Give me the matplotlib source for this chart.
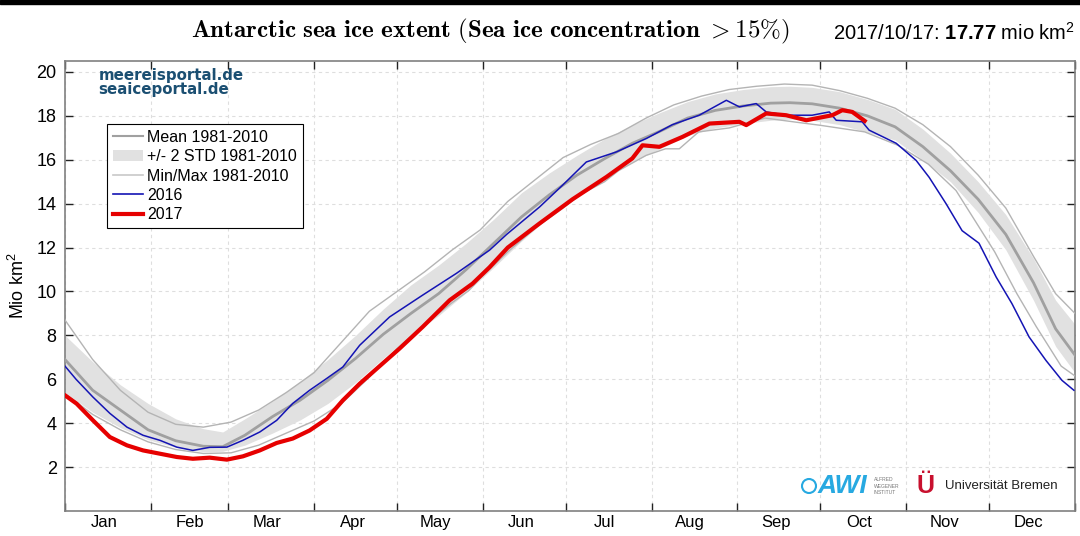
import numpy as np
import matplotlib.pyplot as plt
from matplotlib.patches import Patch, Rectangle, Ellipse
from matplotlib.lines import Line2D

plt.rcParams['font.family'] = ['Liberation Sans', 'DejaVu Sans']
plt.rcParams['mathtext.fontset'] = 'custom'
plt.rcParams['mathtext.rm'] = 'Liberation Sans'
plt.rcParams['mathtext.bf'] = 'Liberation Sans:bold'
plt.rcParams['mathtext.it'] = 'Liberation Sans:italic'

# day of year (0 = Jan 1)
month_starts = [0, 31, 59, 90, 120, 151, 181, 212, 243, 273, 304, 334, 365]
month_names = ['Jan', 'Feb', 'Mar', 'Apr', 'May', 'Jun',
               'Jul', 'Aug', 'Sep', 'Oct', 'Nov', 'Dec']

# climatology 1981-2010
clim_days = [0, 10, 20, 30, 40, 50, 57, 65, 75, 85, 95, 105, 115, 125, 135, 145, 155,
             165, 175, 185, 195, 205, 215, 225, 235, 245, 255, 262, 270, 280, 290,
             300, 310, 320, 330, 340, 350, 358, 365]
mean_vals = [6.9, 5.5, 4.6, 3.7, 3.2, 2.95, 2.93, 3.45, 4.3, 5.05, 5.95, 6.95, 8.05,
             9.0, 9.9, 11.0, 12.2, 13.4, 14.4, 15.3, 16.05, 16.75, 17.3, 17.9, 18.25,
             18.45, 18.58, 18.6, 18.55, 18.35, 18.0, 17.5, 16.6, 15.5, 14.2, 12.6,
             10.4, 8.3, 7.1]
std_upper = [8.0, 6.8, 5.75, 4.9, 4.2, 3.75, 3.6, 4.2, 5.0, 5.9, 6.9, 8.0, 9.2,
             10.3, 11.2, 12.2, 13.3, 14.5, 15.4, 16.2, 16.95, 17.6, 18.15, 18.65,
             19.0, 19.2, 19.33, 19.35, 19.3, 19.1, 18.75, 18.3, 17.4, 16.3, 15.0,
             13.5, 11.5, 9.6, 8.5]
std_lower = [5.4, 4.5, 3.8, 3.25, 2.9, 2.7, 2.72, 3.0, 3.55, 4.15, 4.9, 5.85, 6.95,
             8.0, 8.9, 9.95, 11.1, 12.3, 13.4, 14.35, 15.15, 15.9, 16.5, 17.1, 17.45,
             17.65, 17.8, 17.85, 17.8, 17.6, 17.25, 16.9, 16.0, 15.0, 13.6, 11.9,
             9.6, 7.5, 6.3]

max_days = [0, 10, 20, 30, 40, 50, 60, 70, 80, 90, 100, 110, 120, 130, 140, 150, 160,
            170, 180, 190, 200, 210, 220, 230, 240, 250, 260, 270, 280, 290, 300,
            310, 320, 330, 340, 350, 358, 365]
max_vals = [8.7, 6.9, 5.5, 4.5, 3.95, 3.82, 4.05, 4.6, 5.4, 6.3, 7.7, 9.1, 10.0, 10.9,
            11.9, 12.8, 14.1, 15.1, 16.1, 16.7, 17.2, 17.9, 18.5, 18.9, 19.2, 19.35,
            19.45, 19.4, 19.15, 18.8, 18.35, 17.6, 16.6, 15.3, 13.8, 11.6, 9.9, 9.0]

min_days = [0, 10, 20, 30, 40, 50, 60, 70, 80, 90, 100, 110, 120, 130, 140, 146, 150,
            160, 170, 180, 186, 195, 200, 210, 217, 222, 229, 240, 253, 265, 273,
            289, 301, 312, 322, 328, 336, 344, 351, 360, 365]
min_vals = [5.35, 4.4, 3.7, 3.15, 2.8, 2.62, 2.65, 3.0, 3.55, 4.1, 4.9, 6.1, 7.4, 8.5,
            9.5, 10.05, 10.6, 11.8, 12.9, 13.8, 14.4, 15.0, 15.5, 16.2, 16.5, 16.5,
            17.27, 17.45, 17.9, 17.7, 17.57, 17.27, 16.66, 15.8, 14.6, 13.4, 11.8,
            9.9, 8.4, 6.6, 6.15]

# 2016
days_2016 = [0, 4, 10.1, 16.2, 22.4, 28.2, 34.3, 40.4, 46.2, 52.3, 58.5, 64.3, 70.4,
             76.5, 82.3, 88.4, 94.6, 100.4, 106.5, 117.3, 129.2, 141.5, 153.4, 159.6,
             171.5, 179.8, 188.4, 199.3, 210.1, 219.5, 229.2, 239, 243.7, 249.8,
             253.4, 260.6, 270, 276.2, 278.7, 288.1, 290.6, 300.4, 307.6, 312.3,
             318.4, 324.2, 330.3, 336.5, 342.2, 348.4, 354.5, 360.3, 364.6]
vals_2016 = [6.6, 6.0, 5.19, 4.45, 3.82, 3.45, 3.22, 2.91, 2.76, 2.9, 2.91, 3.22, 3.6,
             4.13, 4.9, 5.5, 6.04, 6.56, 7.55, 8.84, 9.83, 10.83, 11.88, 12.6, 13.85,
             14.84, 15.9, 16.36, 16.97, 17.6, 18.03, 18.71, 18.41, 18.56, 18.18,
             18.03, 18.03, 18.18, 17.8, 17.73, 17.35, 16.75, 15.97, 15.2, 14.0,
             12.77, 12.2, 10.66, 9.45, 7.93, 6.86, 5.95, 5.5]

# 2017 (until 2017/10/17)
days_2017 = [0, 4.2, 10.1, 16.2, 22.4, 28.2, 34.3, 40.4, 46.2, 52.3, 58.5, 64.3, 70.4,
             76.5, 82.3, 88.4, 94.6, 100.4, 106.5, 120.9, 129.2, 139, 147.3, 153.4,
             160, 171.5, 183.4, 195.7, 205, 208.7, 214.8, 223.1, 232.9, 243.7, 246.2,
             253.4, 260.6, 267.9, 277.3, 280.9, 284.5, 289]
vals_2017 = [5.27, 4.89, 4.13, 3.37, 2.99, 2.76, 2.61, 2.46, 2.38, 2.43, 2.34, 2.49,
             2.76, 3.1, 3.3, 3.67, 4.2, 5.04, 5.8, 7.4, 8.38, 9.6, 10.36, 11.1, 12.0,
             13.1, 14.2, 15.22, 16.06, 16.66, 16.59, 17.04, 17.65, 17.73, 17.58,
             18.11, 18.03, 17.8, 18.03, 18.26, 18.18, 17.77]

fig = plt.figure(figsize=(10.8, 5.36), dpi=100)
ax = fig.add_axes([65 / 1080, 25 / 536, 1010 / 1080, 450 / 536])

ax.fill_between(clim_days, std_lower, std_upper, color='#e1e1e1', lw=0, zorder=2)
ax.plot(max_days, max_vals, color='#b4b4b4', lw=1, zorder=3)
ax.plot(min_days, min_vals, color='#b4b4b4', lw=1, zorder=3)
ax.plot(clim_days, mean_vals, color='#a0a0a0', lw=2, zorder=4)
ax.plot(days_2016, vals_2016, color='#1414b4', lw=1.1, zorder=5)
ax.plot(days_2017, vals_2017, color='#e60000', lw=3, zorder=6)

ax.set_xlim(0, 365)
ax.set_ylim(0, 20.5)
ax.set_xticks(month_starts)
ax.set_xticklabels([])
ax.set_xticks([m + 14 for m in month_starts[:-1]], minor=True)
ax.set_xticklabels(month_names, minor=True)
ax.set_yticks(np.arange(2, 21, 2))
ax.tick_params(axis='x', which='major', direction='in', length=6, width=1,
               top=True, bottom=True, color='#222222')
ax.tick_params(axis='x', which='minor', length=0, pad=3, labelsize=12)
ax.tick_params(axis='y', which='major', direction='in', length=6, width=1,
               left=True, right=True, labelsize=13, pad=6, color='#222222')
ax.grid(True, which='major', linestyle=(0, (3, 3)), color='#dedede', lw=0.8)
ax.set_axisbelow(True)
for sp in ax.spines.values():
    sp.set_color('#808080')
    sp.set_linewidth(1.2)
ax.set_ylabel(r'Mio km$^2$', fontsize=13, labelpad=6)

handles = [Line2D([], [], color='#a0a0a0', lw=1.5),
           Patch(facecolor='#e1e1e1', edgecolor='none'),
           Line2D([], [], color='#c8c8c8', lw=1.2),
           Line2D([], [], color='#1414b4', lw=1.2),
           Line2D([], [], color='#e60000', lw=3)]
labels = ['Mean 1981-2010', '+/- 2 STD 1981-2010', 'Min/Max 1981-2010', '2016', '2017']
leg = ax.legend(handles, labels, loc='upper left', bbox_to_anchor=(0.042, 0.86),
                fontsize=11.5, fancybox=False, edgecolor='black', framealpha=1,
                handlelength=1.9, handletextpad=0.25, labelspacing=0.28,
                borderpad=0.35, borderaxespad=0)
leg.get_frame().set_linewidth(0.8)

ax.text(0.033, 0.985, 'meereisportal.de\nseaiceportal.de', transform=ax.transAxes,
        va='top', ha='left', fontfamily='DejaVu Sans', fontweight='bold',
        color='#1b4f72', fontsize=10.8, linespacing=0.9)

# title and date
fig.text(0.454, 0.942,
         r'$\mathbf{Antarctic\ sea\ ice\ extent\ (Sea\ ice\ concentration\ >15\%)}$',
         math_fontfamily='cm', fontsize=18, ha='center', va='center')
fig.text(0.9955, 0.925, r'2017/10/17: $\mathbf{17.77}$ mio km$^2$',
         ha='right', va='baseline', fontsize=14.5)

# black strip on top
fig.add_artist(Rectangle((0, 1 - 4 / 536), 1, 4 / 536, transform=fig.transFigure,
                         color='black', zorder=10))

# logos (text approximations)
fig.add_artist(Ellipse((809 / 1080, 1 - 486 / 536), 14 / 1080, 14 / 536,
                       transform=fig.transFigure, fill=False, edgecolor='#27a9e1', lw=1.5))
fig.text(818 / 1080, 1 - 486 / 536, 'AWI', color='#27a9e1', fontsize=19,
         fontweight='bold', fontstyle='italic', va='center', ha='left')
fig.text(874 / 1080, 1 - 486 / 536, 'ALFRED\nWEGENER\nINSTITUT', color='#777777',
         fontsize=3.6, va='center', ha='left', linespacing=1.3)
fig.text(925 / 1080, 1 - 486 / 536, 'Ü', color='#c8102e', fontsize=18,
         fontweight='bold', va='center', ha='center')
fig.text(945 / 1080, 1 - 486 / 536, 'Universität Bremen', color='#222222',
         fontsize=9.5, va='center', ha='left')

fig.savefig('out.png', dpi=100)
